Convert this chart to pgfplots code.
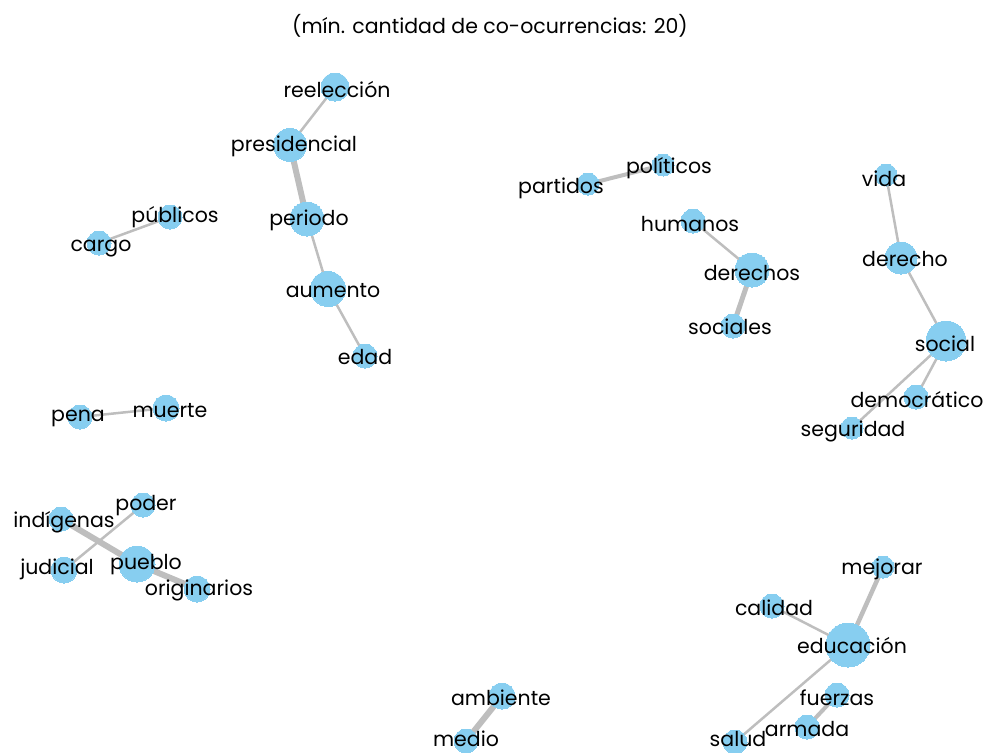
\documentclass[border=0pt]{standalone}
\usepackage{pgfplots}
\usepackage{pgfplotstable}
\pgfplotsset{compat=1.18}
\usepackage{fontspec}
\setmainfont{Poppins}
\definecolor{nodeblue}{RGB}{135,206,240}
\definecolor{edgegray}{RGB}{190,190,190}
\pgfplotstableread{
lx ly label
337 87 reelección
294 144 presidencial
309 218 periodo
333 288 aumento
365 355 edad
175 215 públicos
101 246 cargo
561 186 partidos
669 166 políticos
690 222 humanos
752 271 derechos
730 324 sociales
884 176 vida
905 257 derecho
945 341 social
917 397 democrático
853 429 seguridad
78 416 pena
170 408 muerte
64 520 indígenas
146 503 poder
57 567 judicial
146 562 pueblo
199 588 originarios
882 567 mejorar
774 605 calidad
852 643 educación
837 695 fuerzas
807 726 armada
738 736 salud
501 695 ambiente
466 736 medio
}\labeltable
\begin{document}
\begin{tikzpicture}
\begin{axis}[
  at={(0,0)}, anchor=south west,
  scale only axis, width=987pt, height=752pt,
  xmin=0, xmax=987, ymin=0, ymax=752, y dir=reverse,
  hide axis, clip=false,
  edge/.style={edgegray, line cap=round, no marks},
  nd/.style={nodeblue, only marks, mark=*, mark options={draw=nodeblue, fill=nodeblue, line width=0pt}, mark size=#1pt},
]
% edges
\addplot[edge, line width=2.5pt] coordinates {(335,87) (290,145)};
\addplot[edge, line width=6pt] coordinates {(290,145) (307,219)};
\addplot[edge, line width=2.5pt] coordinates {(307,219) (328,289)};
\addplot[edge, line width=2.5pt] coordinates {(328,289) (365,356)};
\addplot[edge, line width=2.5pt] coordinates {(99,243) (170,217)};
\addplot[edge, line width=4pt] coordinates {(588,184) (663,165)};
\addplot[edge, line width=2.5pt] coordinates {(693,221) (752,270)};
\addplot[edge, line width=5pt] coordinates {(752,270) (733,326)};
\addplot[edge, line width=2.5pt] coordinates {(886,175) (901,258)};
\addplot[edge, line width=2.5pt] coordinates {(901,258) (946,341)};
\addplot[edge, line width=2.5pt] coordinates {(946,341) (916,397)};
\addplot[edge, line width=2.5pt] coordinates {(946,341) (852,428)};
\addplot[edge, line width=2.5pt] coordinates {(80,417) (166,408)};
\addplot[edge, line width=6pt] coordinates {(61,519) (137,564)};
\addplot[edge, line width=6pt] coordinates {(137,564) (197,589)};
\addplot[edge, line width=2.5pt] coordinates {(143,505) (64,570)};
\addplot[edge, line width=4.5pt] coordinates {(883,567) (848,645)};
\addplot[edge, line width=2.5pt] coordinates {(772,606) (848,645)};
\addplot[edge, line width=2.5pt] coordinates {(848,645) (735,742)};
\addplot[edge, line width=4pt] coordinates {(837,695) (807,727)};
\addplot[edge, line width=6pt] coordinates {(502,696) (466,741)};
% nodes, grouped by radius
\addplot[nd=11] coordinates {(588,184) (663,165) (886,175) (852,428) (883,567)};
\addplot[nd=12] coordinates {(365,356) (170,217) (99,243) (693,221) (733,326) (916,397) (80,417) (61,519) (143,505) (772,606) (837,695) (807,727) (735,742) (466,741)};
\addplot[nd=13] coordinates {(166,408) (64,570) (197,589) (502,696)};
\addplot[nd=14] coordinates {(335,87)};
\addplot[nd=16] coordinates {(901,258)};
\addplot[nd=16.5] coordinates {(290,145)};
\addplot[nd=17] coordinates {(307,219) (752,270)};
\addplot[nd=17.5] coordinates {(328,289)};
\addplot[nd=18] coordinates {(137,564)};
\addplot[nd=20] coordinates {(946,341)};
\addplot[nd=22] coordinates {(848,645)};
% labels
\addplot[only marks, mark=none, black,
  nodes near coords, point meta=explicit symbolic,
  every node near coord/.append style={anchor=center, yshift=-2.5pt, black, font=\fontsize{20.5}{24}\selectfont, inner sep=0pt}]
  table[x=lx, y=ly, meta=label] {\labeltable};
\node[font=\fontsize{20.5}{24}\selectfont, black, yshift=-1pt] at (axis cs:490,25) {(mín. cantidad de co-ocurrencias: 20)};
\end{axis}
\pgfresetboundingbox
\path (0,0) rectangle (987pt,752pt);
\end{tikzpicture}
\end{document}
